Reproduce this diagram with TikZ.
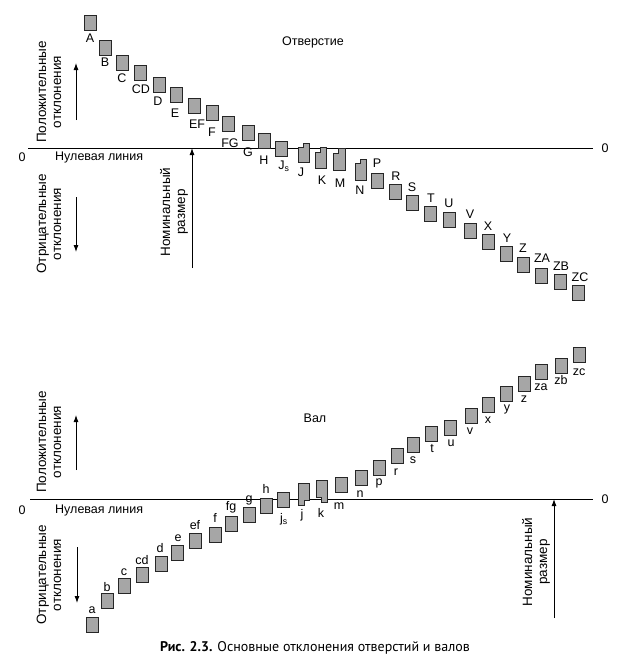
\documentclass[tikz,border=0pt]{standalone}
\usepackage{fontspec}
\setmainfont{Liberation Sans}
\newfontfamily\capfont{PT Sans}
\usetikzlibrary{calc}
\usetikzlibrary{arrows.meta}
\usetikzlibrary{positioning}

\tikzset{
  field/.style={draw=black!85,fill=gray!70,line width=0.8pt,minimum width=12pt,minimum height=15pt,inner sep=0pt},
  letter/.style={inner sep=0pt,font=\fontsize{12.5}{13}\selectfont},
  txt/.style={inner sep=0pt,font=\fontsize{12.5}{14}\selectfont,align=center},
  side/.style={txt,rotate=90,font=\fontsize{13.5}{15}\selectfont},
  arr/.style={line width=0.9pt,-{Latex[length=7pt,width=5pt]}}
}

\begin{document}
\begin{tikzpicture}[x=1pt,y=-1pt]
\useasboundingbox (0,0) rectangle (628,667);

%% --- отверстие (top) ---
\coordinate (holeL) at (28,148);
\coordinate (holeR) at (593,148);
\draw[line width=0.9pt] (holeL) -- (holeR);
\node[letter] (holeZL) at (22,157) {0};
\node[letter] (holeZR) at (605,148) {0};
\node[txt,anchor=west] (holeZero) at (55,157) {Нулевая линия};
\node[txt] (holeTitle) at (313,42) {Отверстие};

\node[side] (holePos) at (49,92) {Положительные\\отклонения};
\node[side] (holeNeg) at (49,224) {Отрицательные\\отклонения};
\coordinate (holePosA) at (76,120);
\coordinate (holePosB) at (76,63);
\coordinate (holeNegA) at (76,197);
\coordinate (holeNegB) at (76,252);
\draw[arr] (holePosA) -- (holePosB);
\draw[arr] (holeNegA) -- (holeNegB);

\node[side] (holeNom) at (174,212) {Номинальный\\размер};
\coordinate (holeNomA) at (192,268);
\coordinate (holeNomB) at (192,148);
\draw[arr] (holeNomA) -- (holeNomB);

\foreach \n/\x/\y/\lx/\ly/\t in {A/90.5/22.5/90/38/A, B/105.5/47.5/105/62/B,
    C/122.5/62.5/122/78/C, CD/140.5/72.5/141/89/CD, D/159/85/158/101/D,
    E/176/95/175/113/E, EF/194.5/106/197/124/EF, F/212.5/112.5/212/132/F,
    FG/228.5/124/230/143/FG, G/248/133/248/152/G, H/264/141/264/160/H,
    Js/281/148.5/284/166/{J\textsubscript{s}},
    P/377.5/180.5/377/163/P, R/395.5/191.5/396/176/R, S/412.5/202.5/412/187/S,
    T/430/214/431/198/T, U/449/219.5/449/203/U, V/470/230.5/470/214/V,
    X/488/242/488/226/X, Y/506/254/507/238/Y, Z/523/264.5/523/248/Z,
    ZA/541/275.5/542/258/ZA, ZB/560/281.5/561/266/ZB, ZC/578.5/293/580/277/ZC}
{
  \node[field] (h\n) at (\x,\y) {};
  \node[letter] (lh\n) at (\lx,\ly) {\t};
}

% stepped fields J, K, M, N
\draw[draw=black!85,fill=gray!70,line width=0.8pt] (298,162) -- (298,147) -- (303,147) -- (303,143) -- (309,143) -- (309,162) -- cycle;
\draw[draw=black!85,fill=gray!70,line width=0.8pt] (315,168) -- (315,152) -- (320,152) -- (320,147) -- (326,147) -- (326,168) -- cycle;
\draw[draw=black!85,fill=gray!70,line width=0.8pt] (333,170) -- (333,153) -- (338,153) -- (338,148) -- (345,148) -- (345,170) -- cycle;
\draw[draw=black!85,fill=gray!70,line width=0.8pt] (355,180) -- (355,163) -- (360,163) -- (360,159) -- (366,159) -- (366,180) -- cycle;
\node[letter] (lhJ) at (301,172) {J};
\node[letter] (lhK) at (322,180) {K};
\node[letter] (lhM) at (340,183) {M};
\node[letter] (lhN) at (360,190) {N};

%% --- вал (bottom) ---
\coordinate (shaftL) at (30,499);
\coordinate (shaftR) at (593,499);
\draw[line width=0.9pt] (shaftL) -- (shaftR);
\node[letter] (shaftZL) at (22,510) {0};
\node[letter] (shaftZR) at (605,499) {0};
\node[txt,anchor=west] (shaftZero) at (55,510) {Нулевая линия};
\node[txt] (shaftTitle) at (315,418) {Вал};

\node[side] (shaftPos) at (49,442) {Положительные\\отклонения};
\node[side] (shaftNeg) at (49,575) {Отрицательные\\отклонения};
\coordinate (shaftPosA) at (76,470);
\coordinate (shaftPosB) at (76,415);
\coordinate (shaftNegA) at (77,547);
\coordinate (shaftNegB) at (77,603);
\draw[arr] (shaftPosA) -- (shaftPosB);
\draw[arr] (shaftNegA) -- (shaftNegB);

\node[side] (shaftNom) at (536,562) {Номинальный\\размер};
\coordinate (shaftNomA) at (554,618);
\coordinate (shaftNomB) at (554,499);
\draw[arr] (shaftNomA) -- (shaftNomB);

\foreach \n/\x/\y/\lx/\ly/\t in {a/92.5/625/92/610/a, b/107.5/600.5/107/587/b,
    c/124/586/124/572/c, cd/142.5/575/142/560/cd, d/161/563.5/160/548/d,
    e/177.5/552.5/178/538/e, ef/195/540.5/195/525/ef, f/215/535/215/518/f,
    fg/231/523.5/231/507/fg, g/249/514.5/249/500/g, h/266/505.5/266/489/h,
    js/283.5/499.5/284/519/{j\textsubscript{s}},
    m/341/484.5/339/506/m, n/361/477.5/360/494/n, p/379/467.5/379/483/p,
    r/397/455.5/396/472/r, s/413/444.5/413/460/s, t/431/434/432/449/t,
    u/450/427.5/451/443/u, v/471/416/470/431/v, x/488.5/405/488/420/x,
    y/506.5/393.5/507/409/y, z/524/383.5/524/399/z, za/541.5/371.5/541/387/za,
    zb/561/365.5/561/380/zb, zc/579/354.5/579/372/zc}
{
  \node[field] (s\n) at (\x,\y) {};
  \node[letter] (ls\n) at (\lx,\ly) {\t};
}

% stepped fields j, k
\draw[draw=black!85,fill=gray!70,line width=0.8pt] (298,483) -- (309,483) -- (309,500) -- (304,500) -- (304,505) -- (298,505) -- cycle;
\draw[draw=black!85,fill=gray!70,line width=0.8pt] (316,480) -- (327,480) -- (327,502) -- (321,502) -- (321,497) -- (316,497) -- cycle;
\node[letter] (lsj) at (302,515) {j};
\node[letter] (lsk) at (321,513) {k};

%% caption
\node[inner sep=0pt,font=\capfont\fontsize{14}{16}\selectfont] (caption) at (315,648)
  {\textbf{Рис. 2.3.} Основные отклонения отверстий и валов};

\end{tikzpicture}
\end{document}
